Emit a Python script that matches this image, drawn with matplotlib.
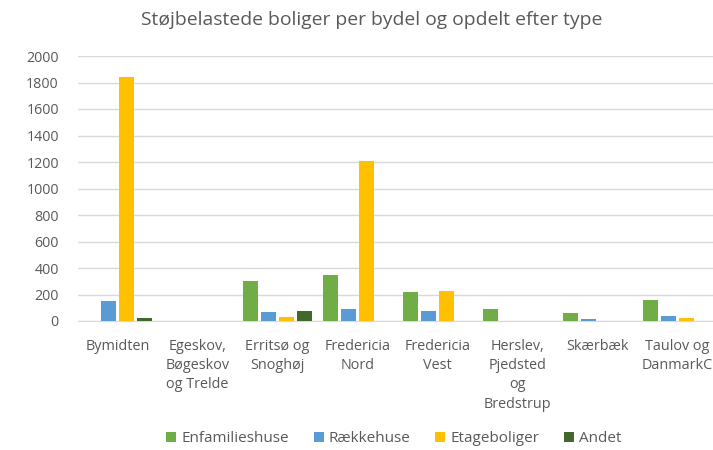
import matplotlib
matplotlib.use("Agg")
import matplotlib.pyplot as plt
import numpy as np

plt.rcParams['font.family'] = ['Open Sans', 'DejaVu Sans']

categories = ["Bymidten", "Egeskov,\nBøgeskov\nog Trelde", "Erritsø og\nSnoghøj",
              "Fredericia\nNord", "Fredericia\nVest", "Herslev,\nPjedsted\nog\nBredstrup",
              "Skærbæk", "Taulov og\nDanmarkC"]
series_names = ["Enfamilieshuse", "Rækkehuse", "Etageboliger", "Andet"]
enfamilieshuse = [0, 0, 300, 350, 220, 90, 60, 160]
raekkehuse = [150, 0, 65, 90, 75, 0, 15, 35]
etageboliger = [1845, 0, 30, 1210, 230, 0, 0, 20]
andet = [20, 0, 75, 0, 0, 0, 0, 0]
colors = ["#70AD47", "#5B9BD5", "#FFC000", "#43682B"]

fig = plt.figure(figsize=(7.13, 4.5), dpi=100)
ax = fig.add_axes([77.5/713, 1-321/450, 640/713, (321-56)/450])

x = np.arange(len(categories))
w = 0.18
step = 0.225
for i, (vals, name, c) in enumerate(zip([enfamilieshuse, raekkehuse, etageboliger, andet], series_names, colors)):
    ax.bar(x + (i - 1.5) * step, vals, width=w, color=c, label=name, zorder=3)

ax.set_ylim(0, 2000)
ax.set_xlim(-0.5, len(categories) - 0.5)
ax.set_yticks(range(0, 2001, 200))
ax.yaxis.grid(True, color="#D9D9D9", linewidth=1, zorder=0)
for s in ["top", "right", "left"]:
    ax.spines[s].set_visible(False)
ax.spines["bottom"].set_color("#D9D9D9")
ax.tick_params(axis="both", length=0, colors="#595959")
ax.tick_params(axis="y", labelsize=10.3, pad=13.5)
ax.set_xticks(x)
ax.set_xticklabels(categories, linespacing=1.38, va="top", fontsize=10.4)
ax.tick_params(axis="x", pad=13)
# keep the last label inside the figure edge
ax.get_xticklabels()[-1].set_x(len(categories) - 1 - 0.03)
fig.canvas.draw()
lbl = ax.get_xticklabels()[-1]
lbl.set_horizontalalignment("center")

fig.text(372/713, 1-20/450, "Støjbelastede boliger per bydel og opdelt efter type",
         ha="center", va="center", fontsize=13.9, color="#595959")

leg = fig.legend(loc="center", bbox_to_anchor=(394/713, 1-439/450), ncol=4, frameon=False,
                 fontsize=11, handlelength=0.65, handleheight=0.65, handletextpad=0.35,
                 columnspacing=1.6, labelcolor="#595959")

fig.savefig("out.png", dpi=100)
